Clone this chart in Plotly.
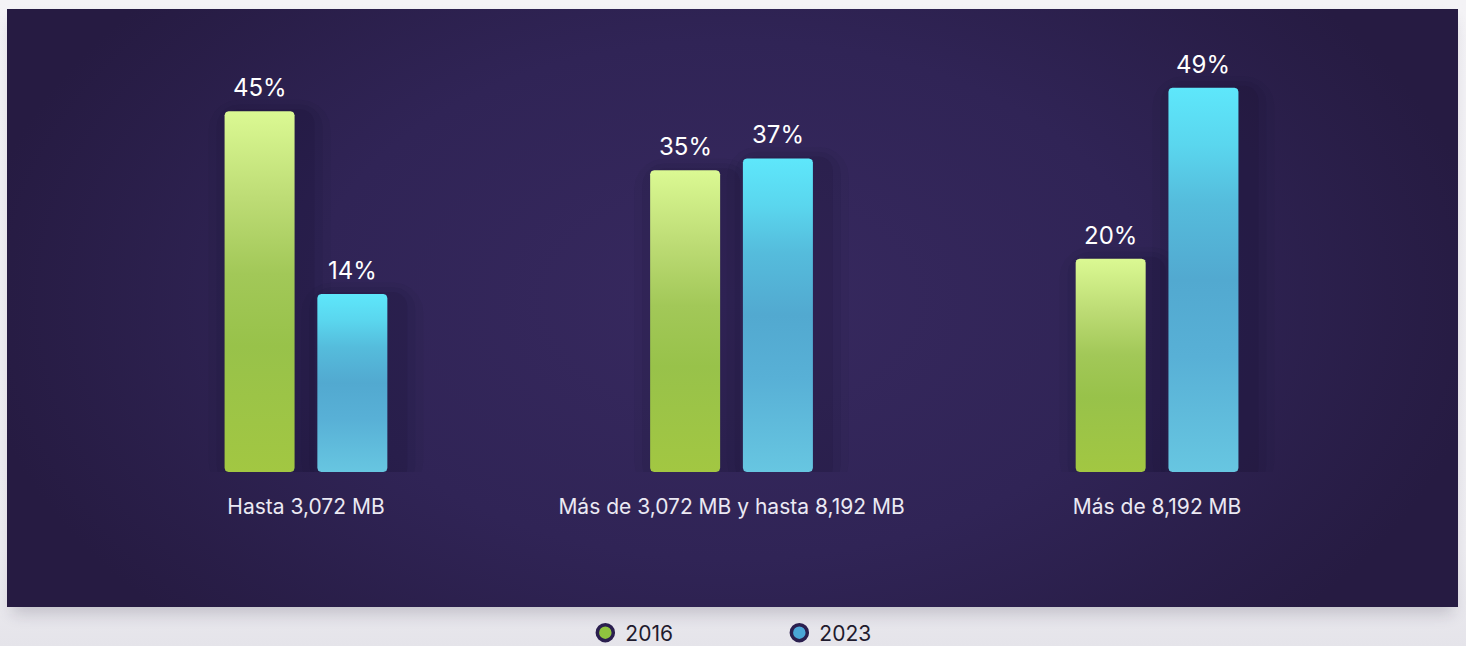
import base64
import math
import plotly.graph_objects as go

# ---------------- data ----------------
categories = ["Hasta 3,072 MB", "Más de 3,072 MB y hasta 8,192 MB", "Más de 8,192 MB"]
series_names = ["2016", "2023"]
values_2016 = [45, 35, 20]
values_2023 = [14, 37, 49]
value_labels_2016 = ["45%", "35%", "20%"]
value_labels_2023 = ["14%", "37%", "49%"]

# ---------------- style ----------------
W, H = 1466, 646
BAR_FLOOR = -16.2          # visual floor of the bars (axis units)
Y_RANGE = [BAR_FLOOR, 54.9]
X_RANGE = [-0.719, 2.726]
MARGIN = dict(l=0, r=0, t=53, b=174)
BAR_OFFSET = 0.109
BAR_WIDTH = 0.1645
FONT = "Inter, Work Sans, Lato, sans-serif"

plot_w = W - MARGIN["l"] - MARGIN["r"]
plot_h = H - MARGIN["t"] - MARGIN["b"]
px_x = plot_w / (X_RANGE[1] - X_RANGE[0])
px_y = plot_h / (Y_RANGE[1] - Y_RANGE[0])

GREEN_SCALE = [[0, "#a2c742"], [0.35, "#98c24a"], [0.55, "#a2c858"],
               [0.75, "#bcdb74"], [1, "#dbf993"]]
BLUE_SCALE = [[0, "#67c6e1"], [0.3, "#58b0d6"], [0.5, "#52a9d0"],
              [0.7, "#55bcdc"], [0.85, "#5ad6ee"], [1, "#5ee7fb"]]


def rounded_rect(x0, x1, y0, y1, r_px=4, n=5):
    rx, ry = r_px / px_x, r_px / px_y
    pts = []
    corners = [
        (x1 - rx, y1 - ry, 0, 90),
        (x0 + rx, y1 - ry, 90, 180),
        (x0 + rx, y0 + ry, 180, 270),
        (x1 - rx, y0 + ry, 270, 360),
    ]
    for cx, cy, a0, a1 in corners:
        for k in range(n + 1):
            a = math.radians(a0 + (a1 - a0) * k / n)
            pts.append((cx + rx * math.cos(a), cy + ry * math.sin(a)))
    pts.append(pts[0])
    return [p[0] for p in pts], [p[1] for p in pts]


fig = go.Figure()

series = [
    (values_2016, value_labels_2016, -BAR_OFFSET, GREEN_SCALE),
    (values_2023, value_labels_2023, BAR_OFFSET, BLUE_SCALE),
]

# soft shadows behind bars
for vals, _, off, _ in series:
    for i, v in enumerate(vals):
        xc = i + off
        for grow, op in [(26, 0.05), (18, 0.07), (10, 0.10)]:
            gx, gy = grow / px_x, grow / px_y
            sx, sy = 10 / px_x, 4 / px_y
            xs, ys = rounded_rect(xc - BAR_WIDTH / 2 - gx + sx, xc + BAR_WIDTH / 2 + gx + sx,
                                  BAR_FLOOR - gy * 0.6 - sy, v + gy * 0.6 - sy, r_px=grow + 4)
            fig.add_trace(go.Scatter(x=xs, y=ys, mode="lines", fill="toself",
                                     fillcolor=f"rgba(18,10,38,{op})", line=dict(width=0),
                                     hoverinfo="skip", showlegend=False))

# bars with vertical gradient
for vals, labels, off, scale in series:
    for i, v in enumerate(vals):
        xc = i + off
        xs, ys = rounded_rect(xc - BAR_WIDTH / 2, xc + BAR_WIDTH / 2, BAR_FLOOR, v)
        fig.add_trace(go.Scatter(x=xs, y=ys, mode="lines", fill="toself",
                                 fillgradient=dict(type="vertical", colorscale=scale),
                                 line=dict(width=0), hoverinfo="skip", showlegend=False))
        fig.add_annotation(x=xc, y=v, text=labels[i], showarrow=False, yanchor="bottom",
                           yshift=7, font=dict(family=FONT, size=24, color="#ffffff"))

# legend entries
fig.add_trace(go.Scatter(x=[None], y=[None], mode="markers", name=series_names[0],
                         marker=dict(size=18, color="#8fc33f", line=dict(width=3.5, color="#2b1f4f"))))
fig.add_trace(go.Scatter(x=[None], y=[None], mode="markers", name=series_names[1],
                         marker=dict(size=18, color="#4aa6d6", line=dict(width=3.5, color="#2b1f4f"))))

# background (page + panel with radial glow)
svg = f"""<svg xmlns='http://www.w3.org/2000/svg' width='{W}' height='{H}' viewBox='0 0 {W} {H}'>
<defs>
<linearGradient id='pg' x1='0' y1='0' x2='0' y2='1'>
<stop offset='0' stop-color='#f4f3f6'/><stop offset='0.85' stop-color='#eeedf1'/><stop offset='1' stop-color='#e5e4ea'/>
</linearGradient>
<radialGradient id='rg' cx='731' cy='300' r='760' gradientUnits='userSpaceOnUse' gradientTransform='translate(731 300) scale(1 0.62) translate(-731 -300)'>
<stop offset='0' stop-color='#37295f'/><stop offset='0.55' stop-color='#302456'/><stop offset='1' stop-color='#261b42'/>
</radialGradient>
<filter id='bl' x='-10%' y='-10%' width='120%' height='130%'><feGaussianBlur stdDeviation='8'/></filter>
</defs>
<rect width='{W}' height='{H}' fill='url(#pg)'/>
<rect x='12' y='20' width='1441' height='594' fill='#1c1533' opacity='0.18' filter='url(#bl)'/>
<rect x='7' y='9' width='1451' height='598' fill='url(#rg)'/>
</svg>"""
uri = "data:image/svg+xml;base64," + base64.b64encode(svg.encode()).decode()
top_paper = (H - MARGIN["b"]) / plot_h
fig.add_layout_image(dict(source=uri, xref="paper", yref="paper", x=0, y=top_paper,
                          sizex=1, sizey=H / plot_h, xanchor="left", yanchor="top",
                          sizing="stretch", layer="below"))

fig.update_layout(
    width=W, height=H, autosize=False, margin=MARGIN,
    paper_bgcolor="#efeef2", plot_bgcolor="rgba(0,0,0,0)",
    xaxis=dict(range=X_RANGE, tickvals=[0, 1, 2], ticktext=categories, showgrid=False,
               zeroline=False, showline=False, ticks="", ticklabelstandoff=20,
               tickfont=dict(family=FONT, size=21, color="#ebe9f3"), fixedrange=True),
    yaxis=dict(range=Y_RANGE, visible=False, fixedrange=True),
    showlegend=True,
    legend=dict(orientation="h", xref="container", yref="container",
                x=0.5316, xanchor="center", y=1 - 633 / H, yanchor="middle",
                font=dict(family=FONT, size=21, color="#1f1b2e"),
                entrywidth=149, bgcolor="rgba(0,0,0,0)"),
)

fig.write_html(
    "out.html",
    config={"displayModeBar": False, "responsive": False},
    default_width=f"{W}px",
    default_height=f"{H}px",
    post_script="document.body.style.margin='0';document.body.style.overflow='hidden';",
)
